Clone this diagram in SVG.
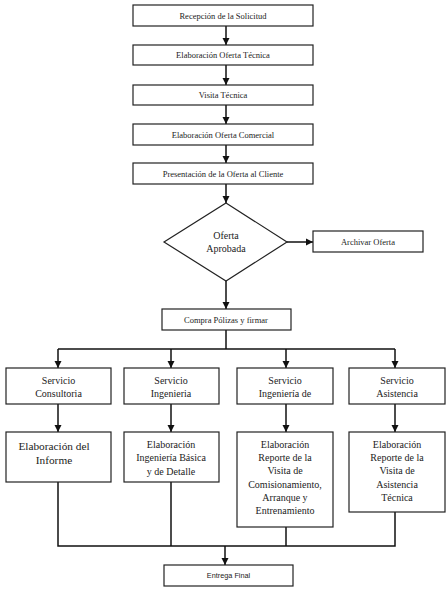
<svg xmlns="http://www.w3.org/2000/svg" width="448" height="595" viewBox="0 0 448 595">
<style>
.box{fill:#fff;stroke:#222;stroke-width:1.2}
.t{fill:#222;text-anchor:middle;dominant-baseline:central}
.s{font-size:8.5px}
.m{font-size:10px}
.l{font-size:11.3px}
.sans{font-family:'Liberation Sans',Arial,sans-serif;font-size:7.3px;fill:#222;text-anchor:middle;dominant-baseline:central}
.c{fill:none;stroke:#111;stroke-width:1.5}
</style>
<defs>
<marker id="ah" viewBox="0 0 10 10" refX="10" refY="5" markerWidth="5" markerHeight="5" orient="auto" markerUnits="strokeWidth">
<path d="M0,0 L10,5 L0,10 Z" fill="#111"/>
</marker>
</defs>
<rect width="448" height="595" fill="#fff"/>
<g id="connectors">
<line class="c" x1="226" y1="26" x2="226" y2="45" marker-end="url(#ah)"/>
<line class="c" x1="226" y1="65" x2="226" y2="85" marker-end="url(#ah)"/>
<line class="c" x1="226" y1="105" x2="226" y2="124" marker-end="url(#ah)"/>
<line class="c" x1="226" y1="145" x2="226" y2="163" marker-end="url(#ah)"/>
<line class="c" x1="226" y1="184" x2="226" y2="203" marker-end="url(#ah)"/>
<line class="c" x1="287" y1="242" x2="313" y2="242" marker-end="url(#ah)"/>
<line class="c" x1="226" y1="281" x2="226" y2="309" marker-end="url(#ah)"/>
<polyline class="c" points="226,330 226,349"/>
<line class="c" x1="58" y1="349" x2="395" y2="349"/>
<line class="c" x1="58" y1="349" x2="58" y2="368" marker-end="url(#ah)"/>
<line class="c" x1="171" y1="349" x2="171" y2="368" marker-end="url(#ah)"/>
<line class="c" x1="286" y1="349" x2="286" y2="368" marker-end="url(#ah)"/>
<line class="c" x1="395" y1="349" x2="395" y2="368" marker-end="url(#ah)"/>
<line class="c" x1="58" y1="404" x2="58" y2="432" marker-end="url(#ah)"/>
<line class="c" x1="171" y1="404" x2="171" y2="432" marker-end="url(#ah)"/>
<line class="c" x1="286" y1="404" x2="286" y2="432" marker-end="url(#ah)"/>
<line class="c" x1="395" y1="404" x2="395" y2="432" marker-end="url(#ah)"/>
<polyline class="c" points="58,482 58,546 395,546 395,512"/>
<line class="c" x1="171" y1="482" x2="171" y2="546"/>
<line class="c" x1="286" y1="527" x2="286" y2="546"/>
<line class="c" x1="225" y1="546" x2="225" y2="565" marker-end="url(#ah)"/>
</g>
<g font-family="'Liberation Serif', 'Times New Roman', 'DejaVu Serif', serif">
<g id="n1"><rect class="box" x="133" y="5" width="180" height="21"/><text class="t s" x="223" y="15.5">Recepción de la Solicitud</text></g>
<g id="n2"><rect class="box" x="133" y="45" width="180" height="20"/><text class="t s" x="223" y="55">Elaboración Oferta Técnica</text></g>
<g id="n3"><rect class="box" x="133" y="85" width="180" height="20"/><text class="t s" x="223" y="95">Visita Técnica</text></g>
<g id="n4"><rect class="box" x="133" y="124" width="180" height="21"/><text class="t s" x="223" y="134.5">Elaboración Oferta Comercial</text></g>
<g id="n5"><rect class="box" x="133" y="163" width="180" height="21"/><text class="t s" x="223" y="173.5">Presentación de la Oferta al Cliente</text></g>
<g id="n6"><polygon class="box" points="226,203 287,242 226,281 164,242"/><text class="t m" x="226" y="235">Oferta</text><text class="t m" x="226" y="248">Aprobada</text></g>
<g id="n7"><rect class="box" x="313" y="231" width="110" height="21"/><text class="t s" x="368" y="241.5">Archivar Oferta</text></g>
<g id="n8"><rect class="box" x="162" y="309" width="129" height="21"/><text class="t s" x="226" y="319.5">Compra Pólizas y firmar</text></g>
<g id="n9"><rect class="box" x="6" y="368" width="105" height="36"/><text class="t m" x="58.5" y="380">Servicio</text><text class="t m" x="58.5" y="393">Consultoria</text></g>
<g id="n10"><rect class="box" x="124" y="368" width="95" height="36"/><text class="t m" x="171" y="380">Servicio</text><text class="t m" x="171" y="393">Ingenieria</text></g>
<g id="n11"><rect class="box" x="237" y="368" width="96" height="36"/><text class="t m" x="285" y="380">Servicio</text><text class="t m" x="285" y="393">Ingeniería de</text></g>
<g id="n12"><rect class="box" x="349" y="368" width="96" height="36"/><text class="t m" x="397" y="380">Servicio</text><text class="t m" x="397" y="393">Asistencia</text></g>
<g id="n13"><rect class="box" x="6" y="432" width="105" height="50"/><text class="t l" x="54" y="446">Elaboración del</text><text class="t l" x="54" y="460">Informe</text></g>
<g id="n14"><rect class="box" x="124" y="432" width="95" height="50"/><text class="t m" x="171" y="444">Elaboración</text><text class="t m" x="171" y="457.5">Ingeniería Básica</text><text class="t m" x="171" y="471">y de Detalle</text></g>
<g id="n15"><rect class="box" x="237" y="432" width="96" height="95"/><text class="t m" x="285" y="444">Elaboración</text><text class="t m" x="285" y="457">Reporte de la</text><text class="t m" x="285" y="470.5">Visita de</text><text class="t m" x="285" y="484">Comisionamiento,</text><text class="t m" x="285" y="497">Arranque y</text><text class="t m" x="285" y="510">Entrenamiento</text></g>
<g id="n16"><rect class="box" x="349" y="432" width="96" height="80"/><text class="t m" x="397" y="444">Elaboración</text><text class="t m" x="397" y="457">Reporte de la</text><text class="t m" x="397" y="470.5">Visita de</text><text class="t m" x="397" y="484">Asistencia</text><text class="t m" x="397" y="497">Técnica</text></g>
<g id="n17"><rect class="box" x="164" y="565" width="129" height="21"/><text class="sans" x="228.5" y="575.5">Entrega Final</text></g>
</g>
</svg>
